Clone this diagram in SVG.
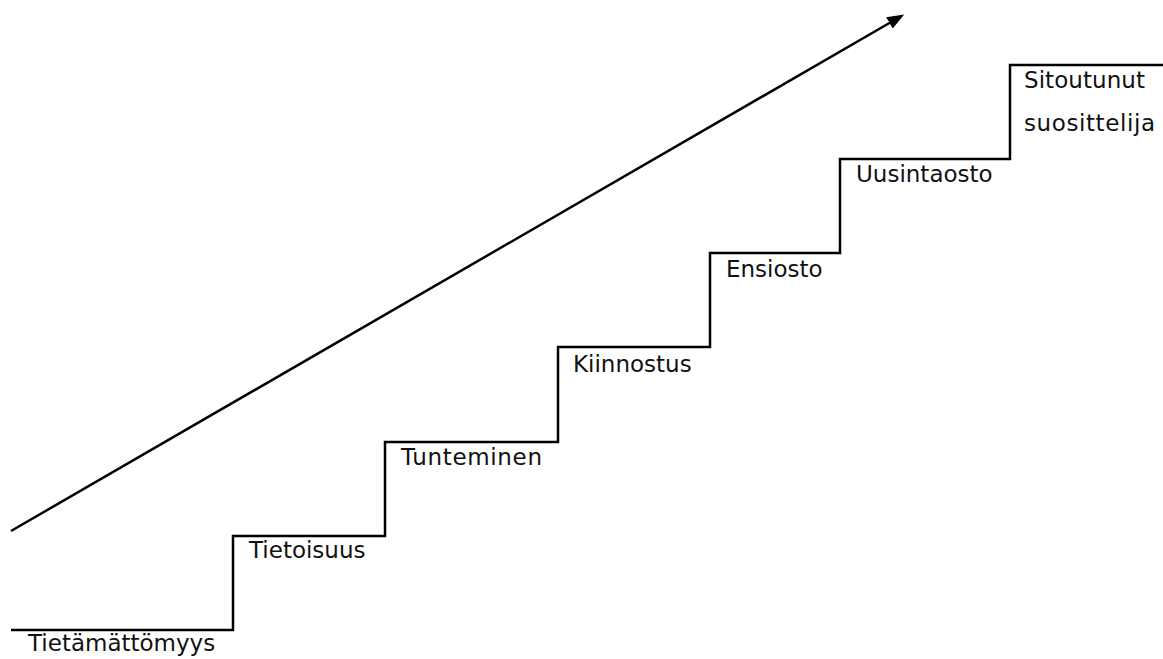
<svg xmlns="http://www.w3.org/2000/svg" width="1163" height="659" viewBox="0 0 1163 659">
<style>
.lbl{font-family:"DejaVu Sans","Liberation Sans",sans-serif;font-size:23px;fill:#111}
.ln{fill:none;stroke:#000;stroke-width:2.5}
</style>
<defs>
<marker id="ah" markerWidth="17" markerHeight="13" refX="1" refY="6.5" orient="auto" markerUnits="userSpaceOnUse" viewBox="0 0 17 13">
<path d="M0,0 L17,6.5 L0,13 z" fill="#000"/>
</marker>
</defs>
<rect width="1163" height="659" fill="#fff"/>
<g id="connectors">
<path class="ln" d="M11,630 H233 V536 H385 V442 H558 V347 H710 V253 H840 V159 H1010 V65 H1163"/>
<line class="ln" x1="11" y1="531" x2="890.3" y2="22.5" marker-end="url(#ah)"/>
</g>
<g id="n1"><text class="lbl" x="28" y="651">Tietämättömyys</text></g>
<g id="n2"><text class="lbl" x="249" y="558">Tietoisuus</text></g>
<g id="n3"><text class="lbl" x="401" y="465" textLength="141" lengthAdjust="spacing">Tunteminen</text></g>
<g id="n4"><text class="lbl" x="573" y="372">Kiinnostus</text></g>
<g id="n5"><text class="lbl" x="726" y="277">Ensiosto</text></g>
<g id="n6"><text class="lbl" x="856" y="182">Uusintaosto</text></g>
<g id="n7"><text class="lbl" x="1024" y="88" textLength="121" lengthAdjust="spacing">Sitoutunut</text><text class="lbl" x="1024" y="131" textLength="131" lengthAdjust="spacing">suosittelija</text></g>
</svg>
